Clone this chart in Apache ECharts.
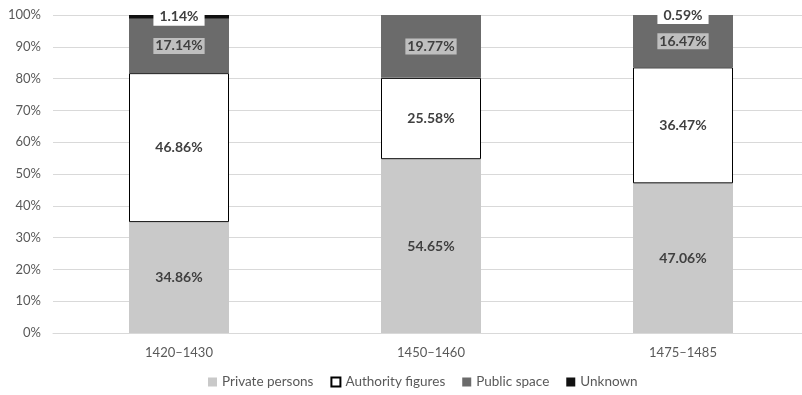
<!DOCTYPE html>
<html>
<head>
<meta charset="utf-8">
<script src="https://cdn.jsdelivr.net/npm/echarts@6/dist/echarts.min.js"></script>
<style>
	html, body { margin: 0; padding: 0; background: #fff; }
	#chart { width: 802px; height: 395px; }
</style>
</head>
<body>
<div id="chart"></div>
<script>
	// 数据
	var periods = ['1420–1430', '1450–1460', '1475–1485'];
	var privatePersons = [34.86, 54.65, 47.06];
	var authorityFigures = [46.86, 25.58, 36.47];
	var publicSpace = [17.14, 19.77, 16.47];
	var unknown = [1.14, 0, 0.59];
	var yTicks = [0, 10, 20, 30, 40, 50, 60, 70, 80, 90, 100];

	var font = 'Lato, "Open Sans", sans-serif';

	function pct(p) {
		return p.value.toFixed(2) + '%';
	}

	function makeSeries(name, data, color, label, border) {
		return {
			name: name,
			type: 'bar',
			stack: 'total',
			barWidth: 100,
			// 0值不显示标签
			data: data.map(function (v) {
				return { value: v, label: { show: v > 0 } };
			}),
			itemStyle: {
				color: color,
				borderColor: border ? '#000' : color,
				borderWidth: border ? 1 : 0
			},
			label: label
		};
	}

	var baseLabel = {
		show: true,
		position: 'inside',
		formatter: pct,
		fontFamily: font,
		fontWeight: 'bold',
		fontSize: 14,
		color: '#404040'
	};

	var chart = echarts.init(document.getElementById('chart'));
	var option = {
		animation: false,
		grid: {
			left: 53,
			top: 15,
			width: 756,
			height: 318,
			outerBoundsMode: 'none'
		},
		legend: {
			bottom: 1,
			left: 203,
			icon: 'rect',
			itemWidth: 9,
			itemHeight: 9,
			itemGap: 17,
			textStyle: { fontFamily: font, fontSize: 13.5, color: '#595959' },
			data: ['Private persons', 'Authority figures', 'Public space', 'Unknown']
		},
		xAxis: {
			type: 'category',
			data: periods,
			axisLine: { lineStyle: { color: '#d9d9d9' } },
			axisTick: { show: false },
			axisLabel: { fontFamily: font, fontSize: 13, color: '#595959', margin: 13 }
		},
		yAxis: {
			type: 'value',
			min: yTicks[0],
			max: yTicks[yTicks.length - 1],
			interval: 10,
			axisLabel: { fontFamily: font, fontSize: 13, color: '#595959', formatter: '{value}%', margin: 12 },
			splitLine: { lineStyle: { color: '#d9d9d9' } },
			axisLine: { show: false },
			axisTick: { show: false }
		},
		series: [
			makeSeries('Private persons', privatePersons, '#c9c9c9', baseLabel, false),
			makeSeries('Authority figures', authorityFigures, '#ffffff', baseLabel, true),
			makeSeries('Public space', publicSpace, '#6b6b6b',
				Object.assign({}, baseLabel, { backgroundColor: '#bfbfbf', padding: [1, 2] }), false),
			makeSeries('Unknown', unknown, '#111111',
				Object.assign({}, baseLabel, { backgroundColor: '#ffffff', padding: [1, 6, 3, 6] }), false)
		]
	};
	chart.setOption(option, true);
</script>
</body>
</html>
